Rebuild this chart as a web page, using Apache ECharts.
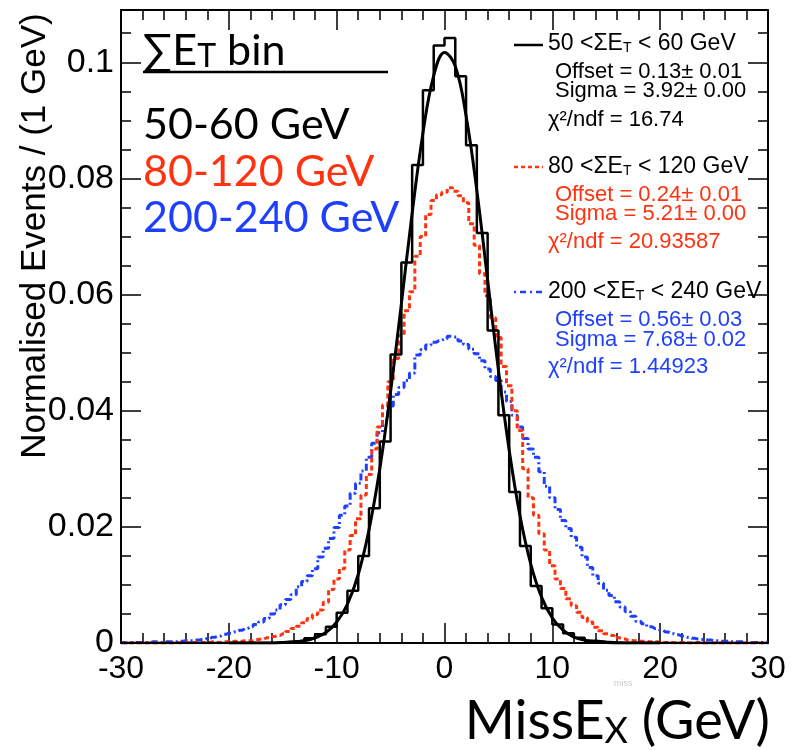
<!DOCTYPE html>
<html>
<head>
<meta charset="utf-8">
<script src="https://cdn.jsdelivr.net/npm/echarts@6/dist/echarts.min.js"></script>
<style>
  html, body { margin: 0; padding: 0; background: #fff; }
  #chart { width: 793px; height: 750px; }
</style>
</head>
<body>
<div id="chart"></div>
<script>
// 50-60 GeV histogram, 1 GeV bins, left edges -30 ... 29
var blackHist = [
  0, 0, 0, 0, 0, 0, 0, 0, 0, 0, 0, 0, 0, 0,
  0.0001, 0.0002, 0.0004, 0.0008, 0.0015, 0.0028, 0.0052, 0.0090, 0.0150, 0.0232,
  0.0347, 0.0497, 0.0655, 0.0823, 0.0952, 0.1029, 0.1042, 0.0976, 0.0857, 0.0706,
  0.0538, 0.0392, 0.0260, 0.0167, 0.0098, 0.0060, 0.0032, 0.0017, 0.0009, 0.0004,
  0.0002, 0.0001,
  0, 0, 0, 0, 0, 0, 0, 0, 0, 0, 0, 0, 0, 0
];
// gaussian fit for 50-60 GeV, read at x = -20 ... 20
var blackFit = [
  0, 0, 0, 0, 0, 0.0001, 0.0002, 0.0004, 0.0009, 0.0018,
  0.0036, 0.0067, 0.0118, 0.0195, 0.0300, 0.0433, 0.0584, 0.0740, 0.0878, 0.0977,
  0.1017,
  0.0993, 0.0908, 0.0779, 0.0625, 0.0470, 0.0332, 0.0219, 0.0136, 0.0079, 0.0043,
  0.0022, 0.0010, 0.0005, 0.0002, 0.0001, 0, 0, 0, 0, 0
];
// 80-120 GeV, x = -30 ... 30 step 0.5
var redVals = [
  0, 0, 0, 0, 0, 0, 0, 0, 0, 0,
  0.0001, 0, 0.0001, 0.0001, 0.0001, 0.0001, 0.0001, 0.0002, 0.0001, 0.0002,
  0.0002, 0.0003, 0.0003, 0.0004, 0.0004, 0.0006, 0.0007, 0.0009, 0.0011, 0.0013,
  0.0016, 0.0020, 0.0025, 0.0029, 0.0035, 0.0042, 0.0049, 0.0057, 0.0070, 0.0092,
  0.0110, 0.0128, 0.0160, 0.0185, 0.0214, 0.0255, 0.0290, 0.0334, 0.0372, 0.0410,
  0.0450, 0.0490, 0.0530, 0.0572, 0.0605, 0.0666, 0.0700, 0.0738, 0.0762, 0.0772,
  0.0776,
  0.0784, 0.0778, 0.0770, 0.0758, 0.0722, 0.0685, 0.0636, 0.0598, 0.0560, 0.0526,
  0.0476, 0.0443, 0.0400, 0.0366, 0.0300, 0.0250, 0.0220, 0.0188, 0.0160, 0.0133,
  0.0110, 0.0094, 0.0076, 0.0064, 0.0053, 0.0044, 0.0036, 0.0027, 0.0021, 0.0016,
  0.0013, 0.0009, 0.0007, 0.0005, 0.0004, 0.0003, 0.0003, 0.0002, 0.0002, 0.0001,
  0.0001, 0.0001, 0, 0.0001, 0, 0, 0.0001, 0, 0, 0,
  0, 0, 0, 0, 0, 0, 0, 0, 0, 0
];
// 200-240 GeV, x = -30 ... 30 step 0.5
var blueVals = [
  0.0001, 0, 0.0001, 0.0001, 0.0001, 0.0001, 0.0002, 0.0001, 0.0002, 0.0002,
  0.0002, 0.0003, 0.0004, 0.0004, 0.0005, 0.0006, 0.0008, 0.0010, 0.0012, 0.0015,
  0.0017, 0.0019, 0.0022, 0.0025, 0.0028, 0.0032, 0.0036, 0.0042, 0.0050, 0.0057,
  0.0066, 0.0075, 0.0083, 0.0097, 0.0106, 0.0116, 0.0128, 0.0148, 0.0163, 0.0180,
  0.0199, 0.0220, 0.0236, 0.0258, 0.0275, 0.0296, 0.0320, 0.0344, 0.0362, 0.0384,
  0.0408, 0.0428, 0.0440, 0.0452, 0.0465, 0.0496, 0.0505, 0.0513, 0.0518, 0.0521,
  0.0524,
  0.0528, 0.0527, 0.0520, 0.0514, 0.0506, 0.0498, 0.0486, 0.0472, 0.0459, 0.0452,
  0.0432, 0.0416, 0.0392, 0.0372, 0.0352, 0.0334, 0.0320, 0.0295, 0.0270, 0.0250,
  0.0230, 0.0211, 0.0197, 0.0182, 0.0165, 0.0148, 0.0130, 0.0116, 0.0103, 0.0091,
  0.0082, 0.0071, 0.0062, 0.0054, 0.0046, 0.0037, 0.0033, 0.0028, 0.0025, 0.0022,
  0.0019, 0.0016, 0.0014, 0.0012, 0.0010, 0.0008, 0.0007, 0.0006, 0.0005, 0.0004,
  0.0003, 0.0003, 0.0002, 0.0002, 0.0002, 0.0001, 0.0001, 0.0001, 0.0001, 0.0001
];

var RED = '#ff3311';
var BLUE = '#1f3fff';
var helv = 'Liberation Sans, Arial, sans-serif';
var gill = 'Lato, sans-serif';

function pairs(vals, start, step) {
  return vals.map(function (v, i) { return [start + i * step, v]; });
}
var histData = pairs(blackHist, -30, 1);
histData.push([30, blackHist[blackHist.length - 1]]);

var chart = echarts.init(document.getElementById('chart'));

var tickLine = { color: '#000', width: 1.5 };
function xAx(pos, labels) {
  return {
    type: 'value', position: pos, min: -30, max: 30, interval: 10,
    axisLine: { onZero: false, lineStyle: { color: '#000', width: 2 } },
    axisTick: { inside: true, length: 20, lineStyle: tickLine },
    minorTick: { show: true, splitNumber: 5, length: 10, lineStyle: tickLine },
    splitLine: { show: false },
    axisLabel: { show: labels, fontSize: 32, color: '#000', fontFamily: helv, margin: 10 }
  };
}
function yAx(pos, major, labels) {
  return {
    type: 'value', position: pos, min: 0, max: 0.109, interval: major ? 0.02 : 0.005,
    axisLine: { show: major, onZero: false, lineStyle: { color: '#000', width: 2 } },
    axisTick: { inside: true, length: major ? 20 : 10, lineStyle: tickLine },
    splitLine: { show: false },
    axisLabel: {
      show: labels, fontSize: 34, color: '#000', fontFamily: helv, margin: 7,
      formatter: function (v) { return v > 0.105 ? '' : String(+v.toFixed(2)); }
    }
  };
}

function subTitle(txt1, sub, txt2, color) {
  return {
    text: '{a|' + txt1 + '}{s|' + sub + '}{a|' + txt2 + '}', textVerticalAlign: 'middle',
    rich: { a: { fontFamily: helv, fontSize: 23, color: color, verticalAlign: 'bottom', lineHeight: 25 },
            s: { fontFamily: helv, fontSize: 14, color: color, verticalAlign: 'bottom', lineHeight: 19 } }
  };
}
function txt(x, y, s, color) {
  return { type: 'text', x: x, y: y, style: { text: s, font: '22px ' + helv, fill: color, textVerticalAlign: 'middle' } };
}

chart.setOption({
  animation: false,
  backgroundColor: '#fff',
  grid: { left: 121, right: 25, top: 10, bottom: 107 },
  xAxis: [xAx('bottom', true), xAx('top', false)],
  yAxis: [yAx('left', true, true), yAx('left', false, false), yAx('right', true, false), yAx('right', false, false)],
  series: [
    {
      type: 'line', data: pairs(blueVals, -30, 0.5), step: 'middle', showSymbol: false,
      lineStyle: { color: BLUE, width: 3, type: [7, 3, 2, 3] }, z: 2
    },
    {
      type: 'line', data: pairs(redVals, -30, 0.5), step: 'middle', showSymbol: false,
      lineStyle: { color: RED, width: 3, type: [5, 3] }, z: 3
    },
    {
      type: 'line', data: histData, step: 'end', showSymbol: false,
      lineStyle: { color: '#000', width: 2.5 }, z: 4
    },
    {
      type: 'line', data: pairs(blackFit, -20, 1), smooth: 0.4, showSymbol: false,
      lineStyle: { color: '#000', width: 3 }, z: 5
    }
  ],
  graphic: [
    // y axis title
    { type: 'text', x: 35, y: 236, rotation: Math.PI / 2,
      style: { text: 'Normalised Events / (1 GeV)', font: '35px ' + helv, fill: '#000', textAlign: 'center', textVerticalAlign: 'middle' } },
    // x axis title
    { type: 'text', x: 770, y: 720,
      style: { text: '{a|MissE}{s|X}{a| (GeV)}', textAlign: 'right', textVerticalAlign: 'middle',
        rich: { a: { fontFamily: gill, fontSize: 54, color: '#000', verticalAlign: 'bottom', lineHeight: 58 },
                s: { fontFamily: gill, fontSize: 36, color: '#000', verticalAlign: 'bottom', lineHeight: 48 } } } },
    { type: 'text', x: 614, y: 684, style: { text: 'miss', font: '9px ' + helv, fill: '#ccc', textVerticalAlign: 'middle' } },
    // left big legend
    { type: 'text', x: 143, y: 50,
      style: { text: '{a|∑E}{s|T}{a| bin}', textVerticalAlign: 'middle',
        rich: { a: { fontFamily: gill, fontSize: 43, color: '#000', verticalAlign: 'bottom', lineHeight: 46 },
                s: { fontFamily: gill, fontSize: 32, color: '#000', verticalAlign: 'bottom', lineHeight: 40 } } } },
    { type: 'line', shape: { x1: 143, y1: 72, x2: 388, y2: 72 }, style: { stroke: '#000', lineWidth: 2.5 } },
    { type: 'text', x: 143, y: 125, style: { text: '50-60 GeV', font: '43px ' + gill, fill: '#000', textVerticalAlign: 'middle' } },
    { type: 'text', x: 143, y: 172, style: { text: '80-120 GeV', font: '43px ' + gill, fill: RED, textVerticalAlign: 'middle' } },
    { type: 'text', x: 143, y: 218, style: { text: '200-240 GeV', font: '43px ' + gill, fill: BLUE, textVerticalAlign: 'middle' } },
    // right legend: 50-60
    { type: 'line', shape: { x1: 514, y1: 45, x2: 543, y2: 45 }, style: { stroke: '#000', lineWidth: 2.5 } },
    { type: 'text', x: 548, y: 43, style: subTitle('50 <ΣE', 'T', ' < 60 GeV', '#000') },
    txt(555, 72, 'Offset = 0.13± 0.01', '#000'),
    txt(555, 91, 'Sigma = 3.92± 0.00', '#000'),
    txt(548, 120, 'χ²/ndf = 16.74', '#000'),
    // 80-120
    { type: 'line', shape: { x1: 514, y1: 167, x2: 543, y2: 167 }, style: { stroke: RED, lineWidth: 2.5, lineDash: [4, 3] } },
    { type: 'text', x: 548, y: 166, style: subTitle('80 <ΣE', 'T', ' < 120 GeV', RED) },
    txt(555, 195, 'Offset = 0.24± 0.01', RED),
    txt(555, 214, 'Sigma = 5.21± 0.00', RED),
    txt(548, 242, 'χ²/ndf = 20.93587', RED),
    // 200-240
    { type: 'line', shape: { x1: 514, y1: 292, x2: 545, y2: 292 }, style: { stroke: BLUE, lineWidth: 2.5, lineDash: [2, 4, 6, 4] } },
    { type: 'text', x: 548, y: 291, style: subTitle('200 <ΣE', 'T', ' < 240 GeV', BLUE) },
    txt(555, 320, 'Offset = 0.56± 0.03', BLUE),
    txt(555, 340, 'Sigma = 7.68± 0.02', BLUE),
    txt(548, 367, 'χ²/ndf = 1.44923', BLUE)
  ]
});
</script>
</body>
</html>
